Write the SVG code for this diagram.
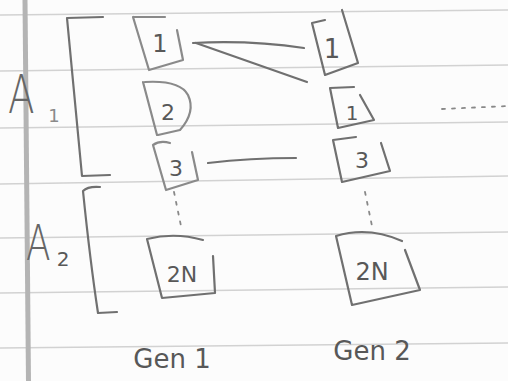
<svg xmlns="http://www.w3.org/2000/svg" width="508" height="381" viewBox="0 0 508 381">
<style>
.rule{stroke:#d2d2d2;stroke-width:1.6;fill:none}
.pen{stroke:#707070;stroke-width:2.2;fill:none;stroke-linecap:round;stroke-linejoin:round}
.lt{stroke:#8a8a8a}
.t{font-family:"DejaVu Sans",sans-serif;fill:#585858;text-anchor:middle}
.big{font-family:"DejaVu Sans",sans-serif;fill:#666;font-weight:300}
.dot{stroke:#888;stroke-width:1.8;stroke-dasharray:3 7;fill:none;stroke-linecap:round}
</style>
<rect width="508" height="381" fill="#fcfcfc"/>
<g id="paper">
<path class="rule" d="M0 15L508 10M0 71L508 65M0 128L508 122M0 184L508 176M0 238L508 232M0 293L508 287M0 348L508 343"/>
<path d="M25 0L28.5 381" stroke="#b4b4b4" stroke-width="5" fill="none"/>
</g>
<g id="A1">
<path class="pen" d="M67 18L103 17M67 18Q75 100 82 176L110 175"/>
<text class="big" x="8" y="113" font-size="54" transform="translate(8 113) scale(0.72 1) translate(-8 -113)">A</text>
<text class="t" x="54" y="122" font-size="18" style="fill:#8a8a8a">1</text>
</g>
<g id="A2">
<path class="pen" d="M100 187Q88 186 83 191Q90 260 98 313L117 312"/>
<text class="big" x="26" y="260" font-size="50" transform="translate(26 260) scale(0.72 1) translate(-26 -260)">A</text>
<text class="t" x="63" y="266" font-size="20">2</text>
</g>
<g id="g1n1">
<path class="pen lt" d="M133 17L165 17M133 17L149 70L183 60L177 30"/>
<text class="t" x="160" y="52" font-size="24">1</text>
</g>
<g id="g1n2">
<path class="pen lt" d="M143 82L157 135M145 82Q180 80 188 95Q196 112 180 130L158 135"/>
<text class="t" x="168" y="120" font-size="22">2</text>
</g>
<g id="g1n3">
<path class="pen lt" d="M153 145Q160 140 170 143M153 145L166 190L198 180L192 152"/>
<text class="t" x="176" y="176" font-size="22">3</text>
</g>
<g id="g1n2N">
<path class="pen" d="M147 239Q175 232 203 240M147 239L162 298L215 293L213 256"/>
<text class="t" x="182" y="282" font-size="22">2N</text>
</g>
<g id="g2n1">
<path class="pen" d="M312 23L325 20M312 23L325 75L358 63L342 10"/>
<text class="t" x="332" y="58" font-size="26">1</text>
</g>
<g id="g2n1b">
<path class="pen" d="M330 88L354 87M330 88L338 128L374 120L360 95"/>
<text class="t" x="352" y="120" font-size="20">1</text>
</g>
<g id="g2n3">
<path class="pen" d="M333 140L356 137M333 140L342 182L390 171L381 143"/>
<text class="t" x="362" y="168" font-size="22">3</text>
</g>
<g id="g2n2N">
<path class="pen" d="M336 236Q368 226 402 241M336 236L352 305L420 290L405 250"/>
<text class="t" x="372" y="280" font-size="24">2N</text>
</g>
<g id="connectors">
<path class="pen" d="M193 43Q250 40 304 48"/>
<path class="pen" d="M196 43L307 82"/>
<path class="pen" d="M208 163Q250 158 296 158"/>
<path class="dot" d="M174 192L181 226"/>
<path class="dot" d="M365 192L372 226"/>
<path class="dot" d="M442 109L508 106" stroke-dasharray="4 14"/>
</g>
<g id="labels">
<text class="t" x="172" y="368" font-size="26">Gen 1</text>
<text class="t" x="372" y="360" font-size="26">Gen 2</text>
</g>
</svg>
